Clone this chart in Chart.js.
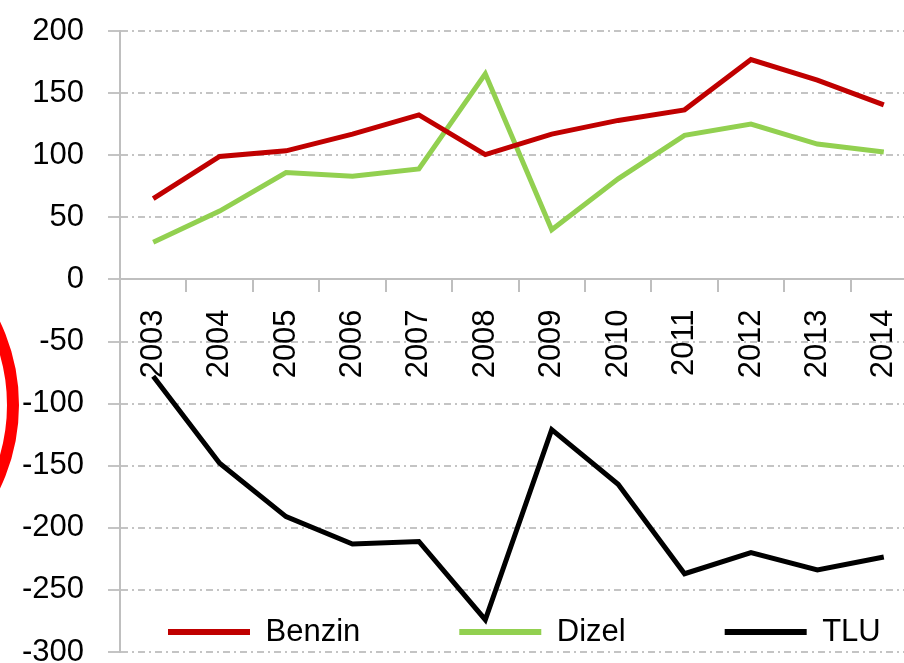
<!DOCTYPE html>
<html>
<head>
<meta charset="utf-8">
<style>
html,body{margin:0;padding:0;overflow:hidden;background:#fff;width:904px;height:663px}
canvas{display:block}
</style>
<script src="https://cdn.jsdelivr.net/npm/chart.js@4/dist/chart.umd.min.js"></script>
</head>
<body>
<canvas id="c" width="930" height="663"></canvas>
<script>
const years = ['2003','2004','2005','2006','2007','2008','2009','2010','2011','2012','2013','2014'];
const benzin = [65, 99, 103.5, 117, 132.5, 100.5, 117, 128, 136.5, 177, 160.5, 140.5];
const dizel  = [30, 55, 86, 83, 89, 165.5, 40, 81, 116, 125, 109, 102.5];
const tlu    = [-78, -148, -191, -213, -211, -274, -121, -165, -237, -220, -234, -223.5];
const seriesNames = ['Benzin', 'Dizel', 'TLU'];
const seriesColors = ['#c00000', '#92d050', '#000000'];
const yMin = -300, yMax = 200, yStep = 50;

const FONT = 'Liberation Sans, Arial, sans-serif';

const legendMover = {
  id: 'legendMover',
  afterLayout(chart) {
    const lg = chart.legend;
    if (!lg) return;
    lg.left = 69;
    lg.right = 69 + 1000;
    lg.top = 633 - 100 - 15.5;
    lg.bottom = 663;
    lg.width = lg.right - lg.left;
    lg.height = lg.bottom - lg.top;
  }
};

const redCircle = {
  id: 'redCircle',
  afterDraw(chart) {
    const ctx = chart.ctx;
    ctx.save();
    ctx.strokeStyle = '#ff0000';
    ctx.lineWidth = 12;
    ctx.beginPath();
    ctx.arc(-174, 405, 187, 0, Math.PI * 2);
    ctx.stroke();
    ctx.restore();
  }
};

const datasets = [benzin, dizel, tlu].map((d, i) => ({
  label: seriesNames[i],
  data: d,
  borderColor: seriesColors[i],
  backgroundColor: seriesColors[i],
  borderWidth: 5,
  pointRadius: 0,
  pointHoverRadius: 0,
  tension: 0,
  fill: false
}));

new Chart(document.getElementById('c'), {
  type: 'line',
  data: { labels: years, datasets },
  plugins: [legendMover, redCircle],
  options: {
    responsive: false,
    animation: false,
    events: [],
    layout: { padding: { left: 0, top: 31, right: 13, bottom: 10 } },
    plugins: {
      tooltip: { enabled: false },
      legend: {
        display: true,
        position: 'bottom',
        align: 'start',
        maxHeight: 1,
        labels: {
          boxWidth: 82,
          boxHeight: 6,
          padding: 99,
          color: '#000',
          font: { family: FONT, size: 31 },
          generateLabels(chart) {
            return chart.data.datasets.map((ds, i) => ({
              text: ds.label,
              fillStyle: ds.borderColor,
              strokeStyle: ds.borderColor,
              lineWidth: 0,
              fontColor: '#000',
              datasetIndex: i,
              hidden: false
            }));
          }
        }
      }
    },
    scales: {
      x: {
        type: 'category',
        offset: true,
        position: { y: 0 },
        afterFit(s) { s.paddingTop = 0; s.paddingBottom = 0; s.paddingLeft = 0; s.paddingRight = 0; },
        grid: {
          display: true,
          drawOnChartArea: false,
          drawTicks: true,
          tickLength: 12,
          color: '#bfbfbf',
          lineWidth: 2,
          offset: true
        },
        border: { display: true, color: '#bfbfbf', width: 2 },
        ticks: {
          autoSkip: false,
          minRotation: 90,
          maxRotation: 90,
          color: '#000',
          padding: 18,
          font: { family: FONT, size: 31 }
        }
      },
      y: {
        type: 'linear',
        min: yMin,
        max: yMax,
        afterFit(s) { s.width = 120; s.paddingTop = 0; s.paddingBottom = 0; },
        grid: {
          color: '#c4c4c4',
          lineWidth: 2,
          tickLength: 12,
          drawTicks: true
        },
        border: { display: true, color: '#bfbfbf', width: 2, dash: [7, 4, 2, 4] },
        ticks: {
          stepSize: yStep,
          color: '#000',
          padding: 24,
          font: { family: FONT, size: 31 }
        }
      }
    }
  }
});
</script>
</body>
</html>
